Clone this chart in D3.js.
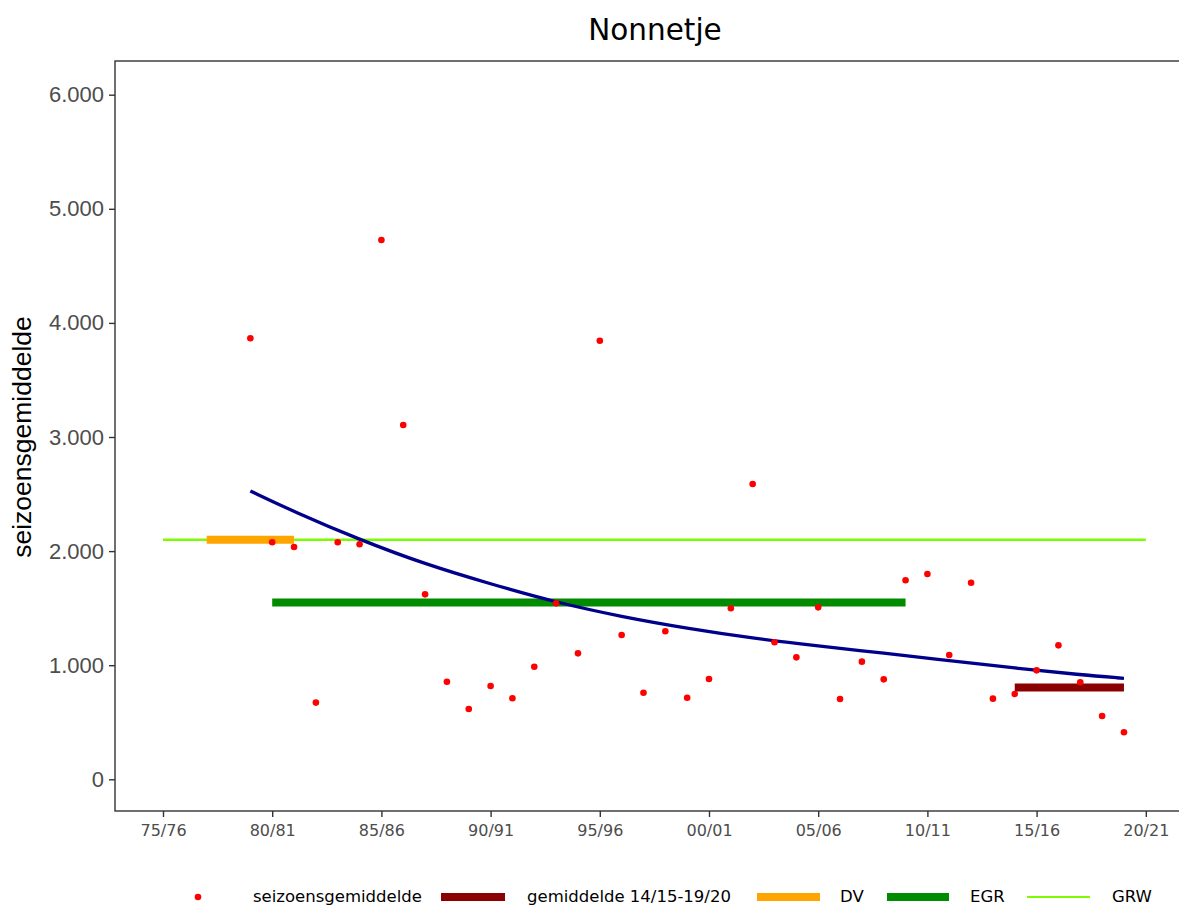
<!DOCTYPE html>
<html>
<head>
<meta charset="utf-8">
<script src="https://cdn.jsdelivr.net/npm/d3@7"></script>
<style>
  body { margin: 0; background: #fff; }
  svg { display: block; }
</style>
</head>
<body>
<script>
// seasons are stored by their start year (1979 = 79/80)
let seasons = [1979, 1980, 1981, 1982, 1983, 1984, 1985, 1986, 1987, 1988,
  1989, 1990, 1991, 1992, 1993, 1994, 1995, 1996, 1997, 1998,
  1999, 2000, 2001, 2002, 2003, 2004, 2005, 2006, 2007, 2008,
  2009, 2010, 2011, 2012, 2013, 2014, 2015, 2016, 2017, 2018, 2019];
let seasonAvg = [3865, 2077, 2036, 672, 2077, 2060, 4727, 3105, 1621, 855,
  616, 818, 710, 987, 1542, 1104, 3844, 1265, 759, 1297,
  715, 879, 1499, 2588, 1201, 1069, 1507, 704, 1031, 876,
  1744, 1799, 1089, 1723, 707, 748, 955, 1174, 850, 555, 412];

// trend curve
let trendSeasons = [1979, 1981, 1984, 1987, 1990, 1993, 1996, 1999, 2002, 2005, 2008, 2011, 2014, 2017, 2019];
let trendValues = [2527, 2345, 2100, 1885, 1712, 1550, 1425, 1323, 1237, 1168, 1106, 1040, 975, 916, 885];

// reference levels: [from, to, value]
let meanRecent = [2014, 2019, 805];
let dv = [1977, 1981, 2100];
let egr = [1980, 2009, 1550];
let grw = [1975, 2020, 2100];

let xTicks = [1975, 1980, 1985, 1990, 1995, 2000, 2005, 2010, 2015, 2020];
let yTicks = [0, 1000, 2000, 3000, 4000, 5000, 6000];

let legendLabels = ['seizoensgemiddelde', 'gemiddelde 14/15-19/20', 'DV', 'EGR', 'GRW'];

let width = 1179, height = 908;
let panel = { left: 115, top: 61, right: 1200, bottom: 811 };

let svg = d3.select('body').append('svg')
  .attr('width', width)
  .attr('height', height);

let x = d3.scaleLinear().domain([1975, 2020]).range([163, 1145.8]);
let y = d3.scaleLinear().domain([0, 6000]).range([779.3, 94.7]);

let nl = d3.formatLocale({ decimal: ',', thousands: '.', grouping: [3], currency: ['', ''] });
let fmt = nl.format(',d');
let two = d3.format('02d');
function seasonLabel(yr) { return two(yr % 100) + '/' + two((yr + 1) % 100); }

// panel border
svg.append('rect')
  .attr('x', panel.left)
  .attr('y', panel.top)
  .attr('width', panel.right - panel.left)
  .attr('height', panel.bottom - panel.top)
  .attr('fill', 'none')
  .attr('stroke', '#333')
  .attr('stroke-width', 1.4);

// y axis
let yAxis = svg.append('g')
  .attr('transform', 'translate(' + panel.left + ',0)')
  .call(d3.axisLeft(y).tickValues(yTicks).tickFormat(fmt).tickSize(6).tickPadding(5));
yAxis.select('.domain').remove();
yAxis.selectAll('line').attr('stroke', '#333').attr('stroke-width', 1.4);
yAxis.selectAll('text')
  .attr('fill', '#4d4d4d')
  .style('font-family', '"Liberation Sans", Arial, sans-serif')
  .style('font-size', '22px');

// x axis
let xAxis = svg.append('g')
  .attr('transform', 'translate(0,' + panel.bottom + ')')
  .call(d3.axisBottom(x).tickValues(xTicks).tickFormat(seasonLabel).tickSize(6).tickPadding(8));
xAxis.select('.domain').remove();
xAxis.selectAll('line').attr('stroke', '#333').attr('stroke-width', 1.4);
xAxis.selectAll('text')
  .attr('fill', '#4d4d4d')
  .style('font-family', '"DejaVu Sans", sans-serif')
  .style('font-size', '16px');

let g = svg.append('g');

function level(d, color, w) {
  g.append('line')
    .attr('x1', x(d[0])).attr('x2', x(d[1]))
    .attr('y1', y(d[2])).attr('y2', y(d[2]))
    .attr('stroke', color)
    .attr('stroke-width', w);
}

level(grw, '#7CFC00', 2.5);
level(dv, '#FFA500', 8);
level(egr, '#008B00', 8);
level(meanRecent, '#8B0000', 8);

// trend
let line = d3.line()
  .x(function(d, i) { return x(trendSeasons[i]); })
  .y(function(d) { return y(d); })
  .curve(d3.curveBasis);

g.append('path')
  .datum(trendValues)
  .attr('d', line)
  .attr('fill', 'none')
  .attr('stroke', '#00008B')
  .attr('stroke-width', 3.3);

// season averages
g.selectAll('circle.pt')
  .data(seasonAvg)
  .enter().append('circle')
  .attr('class', 'pt')
  .attr('cx', function(d, i) { return x(seasons[i]); })
  .attr('cy', function(d) { return y(d); })
  .attr('r', 3.3)
  .attr('fill', '#FF0000');

// title
svg.append('text')
  .attr('x', 655)
  .attr('y', 40)
  .attr('text-anchor', 'middle')
  .style('font-family', '"DejaVu Sans", sans-serif')
  .style('font-size', '29.5px')
  .text('Nonnetje');

// y title
svg.append('text')
  .attr('transform', 'translate(31,437) rotate(-90)')
  .attr('text-anchor', 'middle')
  .style('font-family', '"Liberation Sans", Arial, sans-serif')
  .style('font-size', '26.5px')
  .text('seizoensgemiddelde');

// legend (kept just inside the bottom edge)
let legY = 897;
let lg = svg.append('g').style('font-family', '"DejaVu Sans", sans-serif').style('font-size', '16.5px');

lg.append('circle').attr('cx', 198).attr('cy', legY).attr('r', 3.3).attr('fill', '#FF0000');
lg.append('rect').attr('x', 441).attr('y', legY - 4).attr('width', 64).attr('height', 8).attr('fill', '#8B0000');
lg.append('rect').attr('x', 757).attr('y', legY - 4).attr('width', 63).attr('height', 8).attr('fill', '#FFA500');
lg.append('rect').attr('x', 887).attr('y', legY - 4).attr('width', 62).attr('height', 8).attr('fill', '#008B00');
lg.append('line').attr('x1', 1027).attr('x2', 1090).attr('y1', legY).attr('y2', legY)
  .attr('stroke', '#7CFC00').attr('stroke-width', 2);

let legX = [253, 527, 840, 970, 1112];
lg.selectAll('text.leg')
  .data(legendLabels)
  .enter().append('text')
  .attr('class', 'leg')
  .attr('x', function(d, i) { return legX[i]; })
  .attr('y', legY + 5)
  .attr('fill', '#000')
  .text(function(d) { return d; });
</script>
</body>
</html>
